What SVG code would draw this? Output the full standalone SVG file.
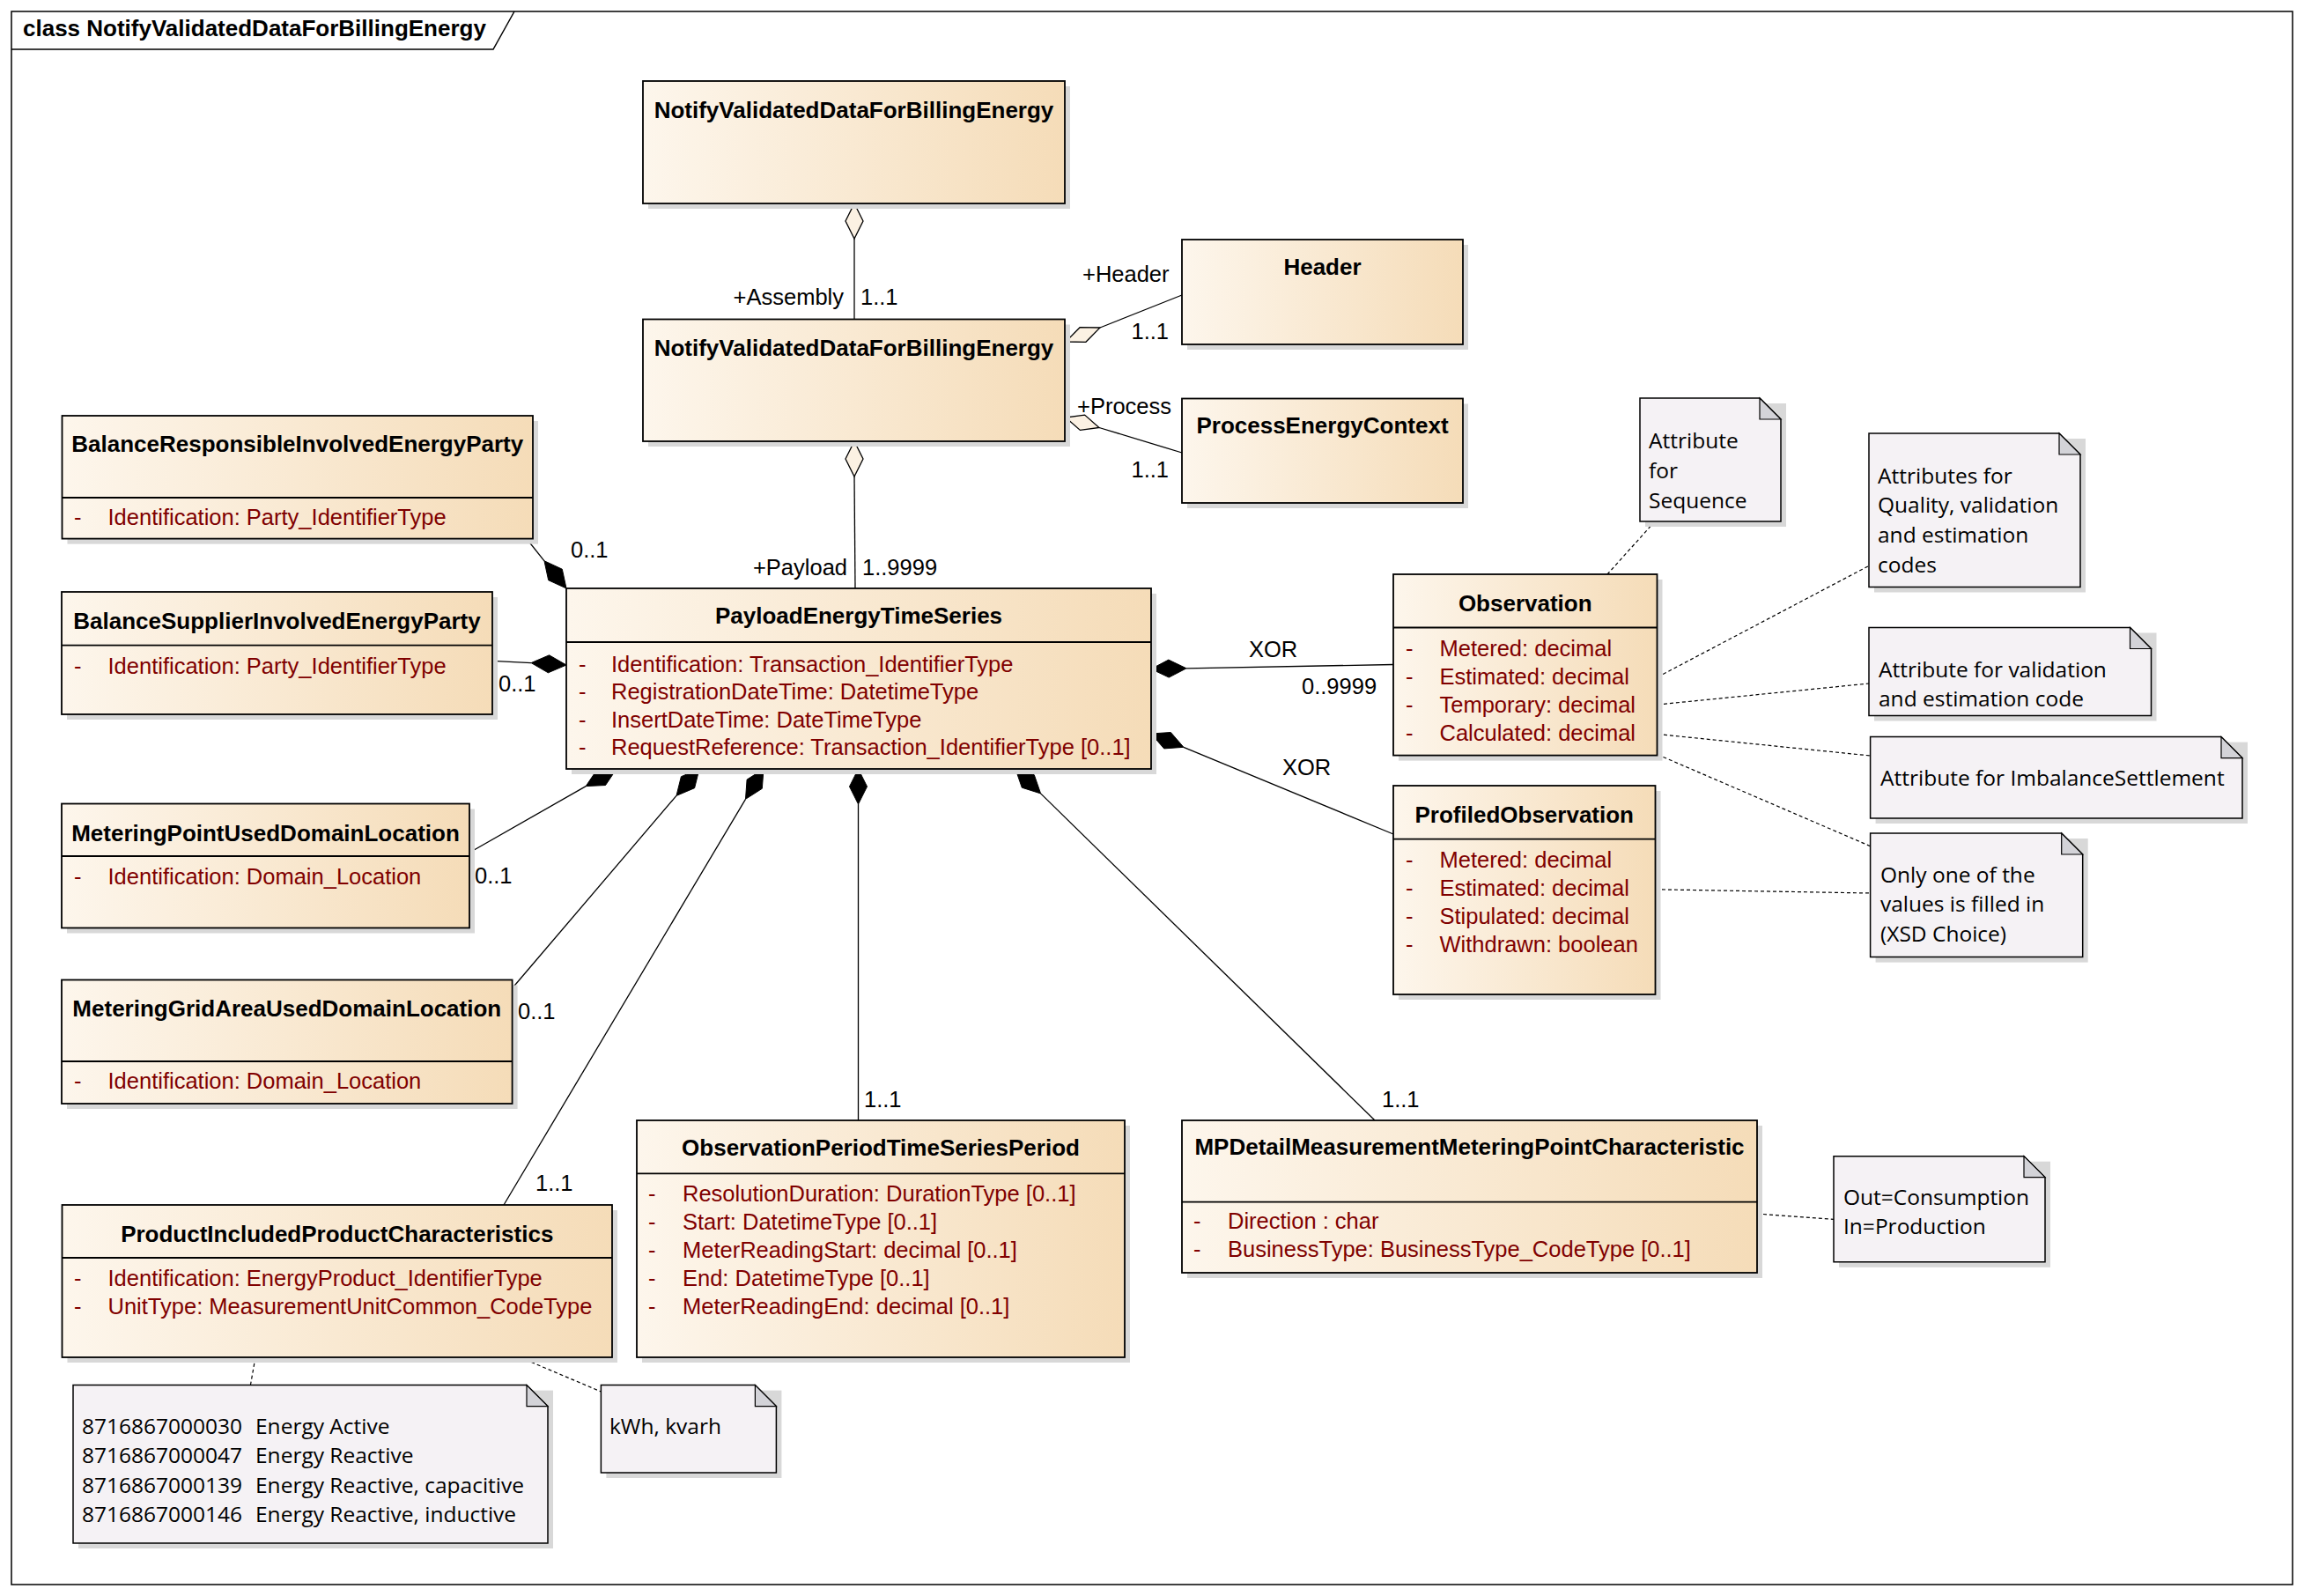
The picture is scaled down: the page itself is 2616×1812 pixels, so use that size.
<svg xmlns="http://www.w3.org/2000/svg" width="2616" height="1812" viewBox="0 0 2616 1812">
<defs>
<linearGradient id="cls" x1="0" y1="0" x2="1" y2="0">
<stop offset="0" stop-color="#fdf6ec"/>
<stop offset="1" stop-color="#f5dcb8"/>
</linearGradient>
<style>
.frame{fill:none;stroke:#000;stroke-width:1.5}
.box{fill:url(#cls);stroke:#000;stroke-width:1.8}
.shadow{fill:#d8d8d8}
.div{stroke:#000;stroke-width:1.8}
.title{font-family:"Liberation Sans",Arial,sans-serif;font-weight:bold;font-size:26px;text-anchor:middle;fill:#000}
.ftitle{font-family:"Liberation Sans",Arial,sans-serif;font-weight:bold;font-size:26px;fill:#000}
.attr{font-family:"Liberation Sans",Arial,sans-serif;font-size:25.5px;fill:#800000}
.lbl{font-family:"Liberation Sans",Arial,sans-serif;font-size:25.5px;fill:#000}
.end{text-anchor:end}
.note{fill:#f5f2f5;stroke:#000;stroke-width:1.5}
.fold{fill:#d3d3d8;stroke:#000;stroke-width:1.2}
.ntext{font-family:"Open Sans","Noto Sans",sans-serif;font-size:24.5px;fill:#000}
.conn{fill:none;stroke:#000;stroke-width:1.3}
.dash{fill:none;stroke:#000;stroke-width:1.2;stroke-dasharray:4 3}
.filled{fill:#000;stroke:#000;stroke-width:1}
.hollow{fill:#fbf1e3;stroke:#000;stroke-width:1.3}
</style>
</defs>
<rect width="2616" height="1812" fill="#fff"/>
<g id="frame">
<rect class="frame" x="13" y="13" width="2590" height="1786"/>
<polyline class="frame" points="13,56 560,56 584,13"/>
<text class="ftitle" x="26" y="41">class NotifyValidatedDataForBillingEnergy</text>
</g>

<g id="connectors">
<polygon class="hollow" points="970,231 980,251 970,271 960,251"/>
<line class="conn" x1="970" y1="271" x2="970" y2="362.5"/>
<text class="lbl end" x="958" y="346">+Assembly</text>
<text class="lbl" x="977" y="346">1..1</text>

<polygon class="hollow" points="970,501 980,521 970,541 960,521"/>
<line class="conn" x1="970" y1="541" x2="971" y2="668"/>
<text class="lbl end" x="962" y="653">+Payload</text>
<text class="lbl" x="979" y="653">1..9999</text>

<polygon class="hollow" points="1210,388 1232.9,388.3 1249,372 1226.1,371.7"/>
<line class="conn" x1="1249" y1="372" x2="1342" y2="335"/>
<text class="lbl" x="1229" y="320">+Header</text>
<text class="lbl end" x="1327" y="385">1..1</text>

<polygon class="hollow" points="1210,474 1226.4,488.4 1248,485.5 1231.6,471.1"/>
<line class="conn" x1="1248" y1="485.5" x2="1342" y2="514"/>
<text class="lbl" x="1223" y="470">+Process</text>
<text class="lbl end" x="1327" y="542">1..1</text>

<polygon class="filled" points="643,668 638.3,646.2 618,636.8 622.7,658.7"/>
<line class="conn" x1="618" y1="636.8" x2="599" y2="613"/>
<text class="lbl" x="648" y="633">0..1</text>

<polygon class="filled" points="643,755 623.6,743.8 603.1,752.6 622.4,763.8"/>
<line class="conn" x1="603.1" y1="752.6" x2="559" y2="750.4"/>
<text class="lbl" x="566" y="785">0..1</text>

<polygon class="filled" points="700,873 687.5,891.5 665.2,892.6 677.7,874.1"/>
<line class="conn" x1="665.2" y1="892.6" x2="533" y2="968"/>
<text class="lbl" x="539" y="1003">0..1</text>

<polygon class="filled" points="794,873 788.6,894.7 768,903.4 773.4,881.7"/>
<line class="conn" x1="768" y1="903.4" x2="581.6" y2="1122"/>
<text class="lbl" x="588" y="1157">0..1</text>

<polygon class="filled" points="867,873 865.3,895.3 846.5,907.3 848.1,885.1"/>
<line class="conn" x1="846.5" y1="907.3" x2="572" y2="1368"/>
<text class="lbl" x="608" y="1352">1..1</text>

<polygon class="filled" points="974.5,873 984.5,893 974.5,913 964.5,893"/>
<line class="conn" x1="974.5" y1="913" x2="974.5" y2="1272"/>
<text class="lbl" x="981" y="1257">1..1</text>

<polygon class="filled" points="1153,873 1160.3,894.2 1181.6,900.9 1174.3,879.8"/>
<line class="conn" x1="1181.6" y1="900.9" x2="1561" y2="1272"/>
<text class="lbl" x="1569" y="1257">1..1</text>

<polygon class="filled" points="1307,759.5 1327.2,769.1 1347,758.8 1326.8,749.1"/>
<line class="conn" x1="1347" y1="758.8" x2="1582" y2="754.5"/>
<text class="lbl" x="1418" y="746">XOR</text>
<text class="lbl" x="1478" y="788">0..9999</text>

<polygon class="filled" points="1307,833 1321.7,849.9 1343.9,848.3 1329.3,831.5"/>
<line class="conn" x1="1343.9" y1="848.3" x2="1582" y2="947"/>
<text class="lbl" x="1456" y="880">XOR</text>

<line class="dash" x1="1879" y1="592" x2="1825" y2="652"/>
<line class="dash" x1="1882" y1="768.7" x2="2122" y2="642.4"/>
<line class="dash" x1="1882" y1="800" x2="2122" y2="776"/>
<line class="dash" x1="1882" y1="833.5" x2="2123.6" y2="858"/>
<line class="dash" x1="1882" y1="856.7" x2="2123.6" y2="960.7"/>
<line class="dash" x1="1880" y1="1009.8" x2="2123.6" y2="1014"/>
<line class="dash" x1="1995" y1="1378" x2="2082" y2="1384.4"/>
<line class="dash" x1="290" y1="1541" x2="284.4" y2="1572.6"/>
<line class="dash" x1="590.4" y1="1541" x2="682.4" y2="1580"/>
</g>

<g id="NotifyValidatedDataForBillingEnergy_top">
<rect class="shadow" x="736" y="98" width="479" height="139"/>
<rect class="box" x="730" y="92" width="479" height="139"/>
<text class="title" x="969.5" y="134">NotifyValidatedDataForBillingEnergy</text>
</g>

<g id="NotifyValidatedDataForBillingEnergy">
<rect class="shadow" x="736" y="368.5" width="479" height="138.5"/>
<rect class="box" x="730" y="362.5" width="479" height="138.5"/>
<text class="title" x="969.5" y="404">NotifyValidatedDataForBillingEnergy</text>
</g>

<g id="Header">
<rect class="shadow" x="1348" y="278" width="319" height="119"/>
<rect class="box" x="1342" y="272" width="319" height="119"/>
<text class="title" x="1501.5" y="312">Header</text>
</g>

<g id="ProcessEnergyContext">
<rect class="shadow" x="1348" y="458.5" width="319" height="118.5"/>
<rect class="box" x="1342" y="452.5" width="319" height="118.5"/>
<text class="title" x="1501.5" y="492">ProcessEnergyContext</text>
</g>

<g id="BalanceResponsibleInvolvedEnergyParty">
<rect class="shadow" x="76.5" y="478" width="534.5" height="139.6"/>
<rect class="box" x="70.5" y="472" width="534.5" height="139.6"/>
<line class="div" x1="70.5" y1="565" x2="605" y2="565"/>
<text class="title" x="337.75" y="513">BalanceResponsibleInvolvedEnergyParty</text>
<text class="attr" x="84" y="596">-</text>
<text class="attr" x="122.5" y="596">Identification: Party_IdentifierType</text>
</g>

<g id="BalanceSupplierInvolvedEnergyParty">
<rect class="shadow" x="76" y="678" width="489" height="139"/>
<rect class="box" x="70" y="672" width="489" height="139"/>
<line class="div" x1="70" y1="732.6" x2="559" y2="732.6"/>
<text class="title" x="314.5" y="714">BalanceSupplierInvolvedEnergyParty</text>
<text class="attr" x="84" y="765">-</text>
<text class="attr" x="122.5" y="765">Identification: Party_IdentifierType</text>
</g>

<g id="MeteringPointUsedDomainLocation">
<rect class="shadow" x="76" y="918.5" width="463" height="141"/>
<rect class="box" x="70" y="912.5" width="463" height="141"/>
<line class="div" x1="70" y1="972" x2="533" y2="972"/>
<text class="title" x="301.5" y="955">MeteringPointUsedDomainLocation</text>
<text class="attr" x="84" y="1004">-</text>
<text class="attr" x="122.5" y="1004">Identification: Domain_Location</text>
</g>

<g id="MeteringGridAreaUsedDomainLocation">
<rect class="shadow" x="76" y="1118.5" width="511.6" height="140.5"/>
<rect class="box" x="70" y="1112.5" width="511.6" height="140.5"/>
<line class="div" x1="70" y1="1205" x2="581.6" y2="1205"/>
<text class="title" x="325.8" y="1153.6">MeteringGridAreaUsedDomainLocation</text>
<text class="attr" x="84" y="1236">-</text>
<text class="attr" x="122.5" y="1236">Identification: Domain_Location</text>
</g>

<g id="PayloadEnergyTimeSeries">
<rect class="shadow" x="649" y="674" width="664" height="205"/>
<rect class="box" x="643" y="668" width="664" height="205"/>
<line class="div" x1="643" y1="729" x2="1307" y2="729"/>
<text class="title" x="975" y="708">PayloadEnergyTimeSeries</text>
<text class="attr" x="657" y="763">-</text>
<text class="attr" x="694" y="763">Identification: Transaction_IdentifierType</text>
<text class="attr" x="657" y="794.3">-</text>
<text class="attr" x="694" y="794.3">RegistrationDateTime: DatetimeType</text>
<text class="attr" x="657" y="825.5">-</text>
<text class="attr" x="694" y="825.5">InsertDateTime: DateTimeType</text>
<text class="attr" x="657" y="856.7">-</text>
<text class="attr" x="694" y="856.7">RequestReference: Transaction_IdentifierType [0..1]</text>
</g>

<g id="Observation">
<rect class="shadow" x="1588" y="658" width="299.5" height="205.6"/>
<rect class="box" x="1582" y="652" width="299.5" height="205.6"/>
<line class="div" x1="1582" y1="712.5" x2="1881.5" y2="712.5"/>
<text class="title" x="1731.75" y="694">Observation</text>
<text class="attr" x="1596" y="745">-</text>
<text class="attr" x="1634.5" y="745">Metered: decimal</text>
<text class="attr" x="1596" y="777">-</text>
<text class="attr" x="1634.5" y="777">Estimated: decimal</text>
<text class="attr" x="1596" y="809">-</text>
<text class="attr" x="1634.5" y="809">Temporary: decimal</text>
<text class="attr" x="1596" y="841">-</text>
<text class="attr" x="1634.5" y="841">Calculated: decimal</text>
</g>

<g id="ProfiledObservation">
<rect class="shadow" x="1588" y="898" width="297.5" height="237"/>
<rect class="box" x="1582" y="892" width="297.5" height="237"/>
<line class="div" x1="1582" y1="952.7" x2="1879.5" y2="952.7"/>
<text class="title" x="1730.75" y="934">ProfiledObservation</text>
<text class="attr" x="1596" y="985">-</text>
<text class="attr" x="1634.5" y="985">Metered: decimal</text>
<text class="attr" x="1596" y="1017">-</text>
<text class="attr" x="1634.5" y="1017">Estimated: decimal</text>
<text class="attr" x="1596" y="1049">-</text>
<text class="attr" x="1634.5" y="1049">Stipulated: decimal</text>
<text class="attr" x="1596" y="1081">-</text>
<text class="attr" x="1634.5" y="1081">Withdrawn: boolean</text>
</g>

<g id="ProductIncludedProductCharacteristics">
<rect class="shadow" x="76.5" y="1374" width="624.5" height="173"/>
<rect class="box" x="70.5" y="1368" width="624.5" height="173"/>
<line class="div" x1="70.5" y1="1428" x2="695" y2="1428"/>
<text class="title" x="382.75" y="1409.5">ProductIncludedProductCharacteristics</text>
<text class="attr" x="84" y="1460">-</text>
<text class="attr" x="122.5" y="1460">Identification: EnergyProduct_IdentifierType</text>
<text class="attr" x="84" y="1492">-</text>
<text class="attr" x="122.5" y="1492">UnitType: MeasurementUnitCommon_CodeType</text>
</g>

<g id="ObservationPeriodTimeSeriesPeriod">
<rect class="shadow" x="729" y="1278" width="554" height="269"/>
<rect class="box" x="723" y="1272" width="554" height="269"/>
<line class="div" x1="723" y1="1332.4" x2="1277" y2="1332.4"/>
<text class="title" x="1000" y="1311.6">ObservationPeriodTimeSeriesPeriod</text>
<text class="attr" x="736" y="1364">-</text>
<text class="attr" x="775" y="1364">ResolutionDuration: DurationType [0..1]</text>
<text class="attr" x="736" y="1396">-</text>
<text class="attr" x="775" y="1396">Start: DatetimeType [0..1]</text>
<text class="attr" x="736" y="1428">-</text>
<text class="attr" x="775" y="1428">MeterReadingStart: decimal [0..1]</text>
<text class="attr" x="736" y="1460">-</text>
<text class="attr" x="775" y="1460">End: DatetimeType [0..1]</text>
<text class="attr" x="736" y="1492">-</text>
<text class="attr" x="775" y="1492">MeterReadingEnd: decimal [0..1]</text>
</g>

<g id="MPDetailMeasurementMeteringPointCharacteristic">
<rect class="shadow" x="1348" y="1278" width="653" height="173"/>
<rect class="box" x="1342" y="1272" width="653" height="173"/>
<line class="div" x1="1342" y1="1364.7" x2="1995" y2="1364.7"/>
<text class="title" x="1668.5" y="1311">MPDetailMeasurementMeteringPointCharacteristic</text>
<text class="attr" x="1355" y="1395">-</text>
<text class="attr" x="1394" y="1395">Direction : char</text>
<text class="attr" x="1355" y="1427">-</text>
<text class="attr" x="1394" y="1427">BusinessType: BusinessType_CodeType [0..1]</text>
</g>

<g id="note_sequence">
<rect class="shadow" x="1868" y="458" width="160" height="140"/>
<polygon class="note" points="1862,452 1998,452 2022,476 2022,592 1862,592"/>
<polygon class="fold" points="1998,452 1998,476 2022,476"/>
<text class="ntext" x="1872" y="509">Attribute</text>
<text class="ntext" x="1872" y="543">for</text>
<text class="ntext" x="1872" y="577">Sequence</text>
</g>

<g id="note_quality">
<rect class="shadow" x="2128" y="498" width="240" height="174.5"/>
<polygon class="note" points="2122,492 2338,492 2362,516 2362,666.5 2122,666.5"/>
<polygon class="fold" points="2338,492 2338,516 2362,516"/>
<text class="ntext" x="2132" y="549">Attributes for</text>
<text class="ntext" x="2132" y="582">Quality, validation</text>
<text class="ntext" x="2132" y="616">and estimation</text>
<text class="ntext" x="2132" y="650">codes</text>
</g>

<g id="note_validation">
<rect class="shadow" x="2128" y="718.5" width="320.5" height="100"/>
<polygon class="note" points="2122,712.5 2418.5,712.5 2442.5,736.5 2442.5,812.5 2122,812.5"/>
<polygon class="fold" points="2418.5,712.5 2418.5,736.5 2442.5,736.5"/>
<text class="ntext" x="2133" y="769">Attribute for validation</text>
<text class="ntext" x="2133" y="802">and estimation code</text>
</g>

<g id="note_imbalance">
<rect class="shadow" x="2129.6" y="842.6" width="422.4" height="92.4"/>
<polygon class="note" points="2123.6,836.6 2522,836.6 2546,860.6 2546,929 2123.6,929"/>
<polygon class="fold" points="2522,836.6 2522,860.6 2546,860.6"/>
<text class="ntext" x="2135" y="892">Attribute for ImbalanceSettlement</text>
</g>

<g id="note_choice">
<rect class="shadow" x="2129.6" y="952" width="241.1" height="140.6"/>
<polygon class="note" points="2123.6,946 2340.7,946 2364.7,970 2364.7,1086.6 2123.6,1086.6"/>
<polygon class="fold" points="2340.7,946 2340.7,970 2364.7,970"/>
<text class="ntext" x="2135" y="1002">Only one of the</text>
<text class="ntext" x="2135" y="1035">values is filled in</text>
<text class="ntext" x="2135" y="1069">(XSD Choice)</text>
</g>

<g id="note_direction">
<rect class="shadow" x="2088" y="1318.7" width="240" height="120.1"/>
<polygon class="note" points="2082,1312.7 2298,1312.7 2322,1336.7 2322,1432.8 2082,1432.8"/>
<polygon class="fold" points="2298,1312.7 2298,1336.7 2322,1336.7"/>
<text class="ntext" x="2093" y="1368">Out=Consumption</text>
<text class="ntext" x="2093" y="1401">In=Production</text>
</g>

<g id="note_codes">
<rect class="shadow" x="89" y="1578.6" width="539" height="179.4"/>
<polygon class="note" points="83,1572.6 598,1572.6 622,1596.6 622,1752 83,1752"/>
<polygon class="fold" points="598,1572.6 598,1596.6 622,1596.6"/>
<text class="ntext" y="1628"><tspan x="93">8716867000030</tspan><tspan x="290">Energy Active</tspan></text>
<text class="ntext" y="1661"><tspan x="93">8716867000047</tspan><tspan x="290">Energy Reactive</tspan></text>
<text class="ntext" y="1694.5"><tspan x="93">8716867000139</tspan><tspan x="290">Energy Reactive, capacitive</tspan></text>
<text class="ntext" y="1728"><tspan x="93">8716867000146</tspan><tspan x="290">Energy Reactive, inductive</tspan></text>
</g>

<g id="note_units">
<rect class="shadow" x="688.4" y="1578.6" width="199" height="99.4"/>
<polygon class="note" points="682.4,1572.6 857.4,1572.6 881.4,1596.6 881.4,1672 682.4,1672"/>
<polygon class="fold" points="857.4,1572.6 857.4,1596.6 881.4,1596.6"/>
<text class="ntext" x="692" y="1628">kWh, kvarh</text>
</g>
</svg>
